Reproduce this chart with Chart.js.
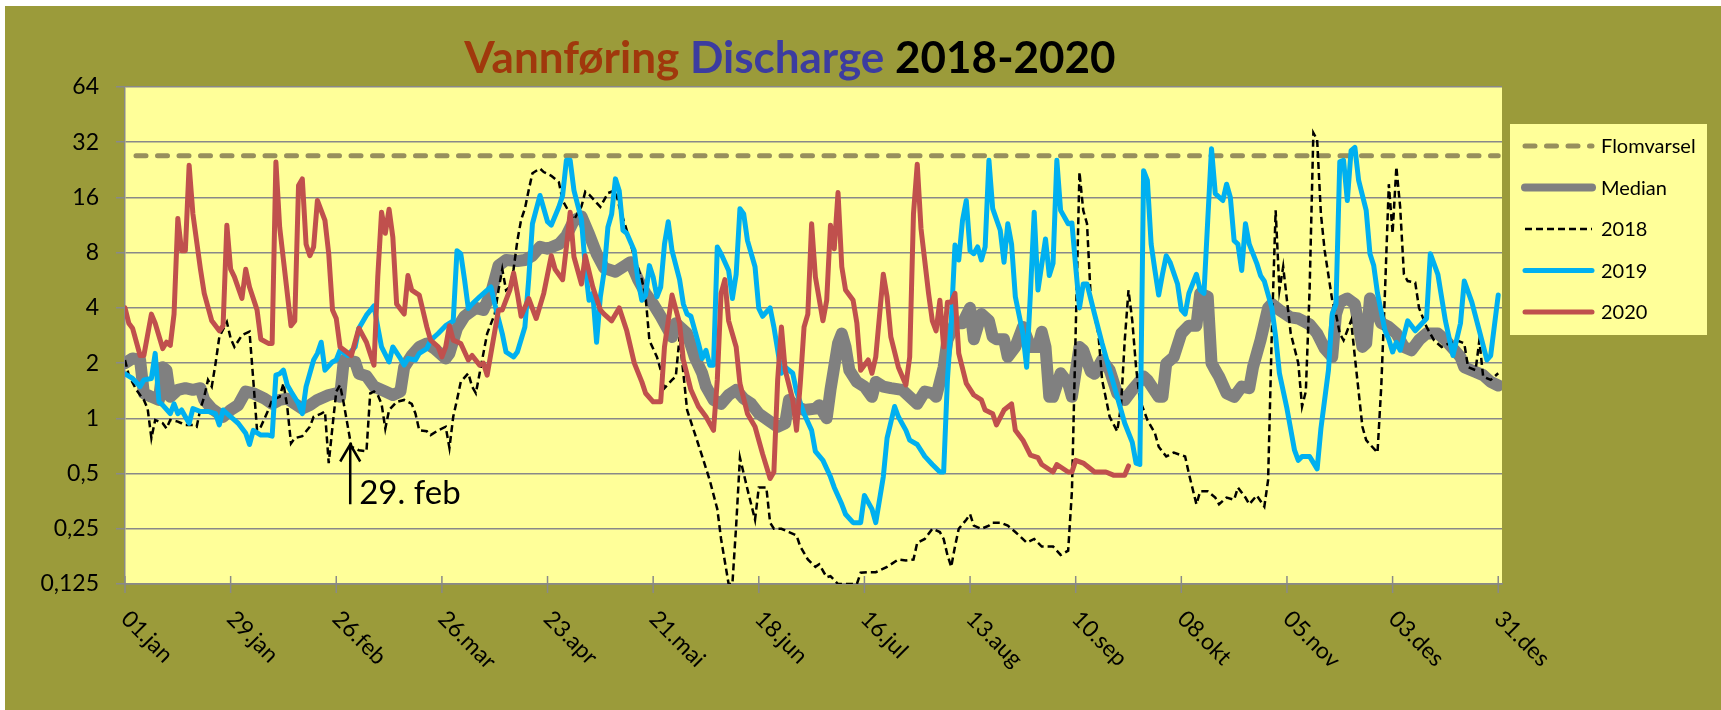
<!DOCTYPE html>
<html>
<head>
<meta charset="utf-8">
<title>Vannføring Discharge 2018-2020</title>
<script src="https://cdn.jsdelivr.net/npm/chart.js@4.4.1/dist/chart.umd.min.js"></script>
<style>
  html, body { margin: 0; padding: 0; background: #fff; }
  #wrap { position: relative; width: 1721px; height: 710px; }
</style>
</head>
<body>
<div id="wrap"><canvas id="flow-chart" width="1721" height="710"></canvas></div>
<script>
// x axis: day of year (0 = 1 Jan), ticks every 4 weeks
var tickDays = [0, 28, 56, 84, 112, 140, 168, 196, 224, 252, 280, 308, 336, 364];
var tickLabels = ['01.jan', '29.jan', '26.feb', '26.mar', '23.apr', '21.mai', '18.jun',
                  '16.jul', '13.aug', '10.sep', '08.okt', '05.nov', '03.des', '31.des'];

// y axis: log2 scale, m3/s
var yTicks = [0.125, 0.25, 0.5, 1, 2, 4, 8, 16, 32, 64];
var yTickLabels = ['0,125', '0,25', '0,5', '1', '2', '4', '8', '16', '32', '64'];

var floodLevel = 27; // Flomvarsel

// [day, discharge]
var median = [[0,2.0],[2,2.12],[4,2.08],[5,1.37],[7,1.31],[9,1.26],[10,1.9],[11,1.83],[12,1.31],[14,1.43],
  [16,1.46],[18,1.43],[20,1.46],[21,1.26],[23,1.13],[26,1.02],[28,1.11],[30,1.18],[32,1.4],[34,1.37],
  [37,1.28],[39,1.2],[41,1.26],[43,1.28],[45,1.2],[47,1.13],[49,1.18],[51,1.26],[54,1.34],[56,1.37],
  [57,1.31],[58,2.08],[61,2.03],[62,1.75],[64,1.7],[66,1.49],[69,1.4],[71,1.34],[73,1.4],[74,1.9],
  [76,2.2],[78,2.45],[80,2.56],[82,2.4],[85,2.12],[86,2.26],[88,3.1],[90,3.6],[93,4.0],[95,3.9],
  [97,4.8],[99,6.8],[101,7.3],[104,7.2],[106,7.3],[108,7.7],[110,8.6],[112,8.4],[115,8.9],[117,9.9],
  [119,12],[121,12.6],[123,10.1],[125,7.9],[127,6.6],[130,6.3],[133,6.9],[134,7.1],[136,5.7],[138,4.8],
  [140,4.2],[142,3.6],[145,2.78],[146,3.3],[149,2.9],[151,2.16],[153,1.76],[154,1.49],[156,1.26],[158,1.2],
  [160,1.34],[162,1.43],[164,1.28],[166,1.2],[168,1.06],[171,0.96],[173,0.9],[175,0.94],[176,1.26],[178,1.16],
  [180,1.11],[183,1.13],[184,1.18],[186,1.0],[187,1.43],[189,2.56],[190,2.9],[191,2.45],[192,1.83],[194,1.58],
  [196,1.49],[198,1.31],[199,1.58],[201,1.49],[203,1.46],[206,1.43],[208,1.31],[210,1.2],[212,1.4],[214,1.37],
  [215,1.31],[217,1.9],[218,2.67],[220,3.3],[222,3.3],[224,4.0],[225,2.7],[227,3.7],[229,3.4],[230,2.78],
  [231,2.7],[233,2.7],[234,2.16],[236,2.45],[238,3.15],[240,2.45],[242,2.45],[243,2.96],[244,2.45],[245,1.31],
  [246,1.31],[248,1.76],[250,1.55],[251,1.31],[253,2.45],[254,2.35],[256,1.8],[257,1.75],[259,2.08],[261,1.83],
  [263,1.37],[265,1.26],[267,1.43],[270,1.69],[271,1.62],[274,1.31],[275,1.31],[276,1.99],[278,2.16],[280,2.9],
  [282,3.2],[284,3.2],[285,4.8],[287,4.6],[288,2.0],[289,1.83],[290,1.69],[292,1.37],[294,1.31],[296,1.49],
  [298,1.46],[299,1.9],[301,2.67],[303,4.0],[304,4.2],[306,3.9],[309,3.55],[311,3.5],[314,3.25],[316,2.9],
  [318,2.4],[320,2.16],[321,3.7],[322,4.3],[324,4.5],[326,4.2],[328,2.45],[329,2.56],[330,4.5],[332,3.7],
  [333,3.3],[335,3.15],[337,2.9],[339,2.45],[341,2.35],[343,2.67],[345,2.9],[348,2.9],[350,2.67],[352,2.4],
  [354,2.16],[355,1.9],[358,1.79],[360,1.72],[362,1.58],[364,1.51]];

var q2018 = [[0,2.08],[1,1.72],[3,1.43],[4,1.34],[5,1.26],[6,1.13],[7,0.78],[8,0.98],[10,0.94],[11,0.88],
  [12,0.98],[14,0.96],[15,0.94],[16,0.92],[18,0.92],[19,0.9],[20,1.13],[21,1.31],[22,1.62],[23,1.49],
  [24,1.99],[25,2.78],[27,3.35],[28,2.73],[29,2.45],[31,2.84],[33,2.97],[34,1.62],[35,0.86],[36,0.9],
  [38,1.11],[39,1.26],[41,1.31],[42,1.55],[43,1.16],[44,0.73],[45,0.78],[47,0.8],[49,0.9],[50,1.02],
  [52,1.06],[53,1.09],[54,0.57],[55,0.9],[56,1.4],[57,1.52],[58,1.2],[60,0.7],[62,0.67],[64,0.66],
  [65,1.37],[66,1.4],[67,1.34],[68,1.2],[69,0.88],[70,1.11],[72,1.23],[74,1.26],[76,1.2],[77,1.06],
  [78,0.86],[80,0.85],[81,0.81],[83,0.86],[85,0.9],[86,0.69],[87,1.02],[88,1.26],[89,1.58],[91,1.76],
  [92,1.49],[93,1.37],[94,1.76],[95,2.26],[96,2.9],[98,3.7],[99,5.0],[100,6.5],[101,5.0],[102,5.2],
  [103,6.5],[104,9.3],[105,12.1],[106,13.9],[107,17.5],[108,21.7],[110,23],[111,22],[113,21],[115,19.4],
  [116,15.4],[118,13],[119,12.1],[121,14.3],[122,17.2],[123,16.6],[126,14.2],[128,16.9],[130,17.5],[131,14.3],
  [133,10.6],[135,7.6],[137,5.7],[138,4.6],[139,2.66],[141,2.16],[142,1.83],[143,1.46],[145,1.62],[146,1.69],
  [147,2.78],[148,1.76],[149,1.11],[151,0.83],[153,0.62],[155,0.46],[157,0.32],[158,0.22],[160,0.125],[161,0.125],
  [162,0.26],[163,0.61],[165,0.41],[167,0.28],[168,0.42],[170,0.42],[171,0.27],[172,0.25],[174,0.25],[176,0.24],
  [178,0.23],[179,0.2],[181,0.17],[183,0.155],[184,0.16],[186,0.136],[187,0.138],[189,0.125],[194,0.125],[195,0.144],
  [197,0.145],[199,0.145],[202,0.155],[205,0.17],[207,0.168],[209,0.17],[210,0.21],[212,0.22],[214,0.25],[216,0.24],
  [217,0.22],[218,0.18],[219,0.155],[220,0.2],[221,0.25],[223,0.28],[224,0.3],[225,0.26],[227,0.25],[229,0.26],
  [230,0.27],[232,0.27],[234,0.26],[236,0.24],[237,0.23],[239,0.21],[241,0.22],[243,0.2],[244,0.2],[246,0.2],
  [248,0.18],[250,0.19],[251,0.4],[252,3.0],[253,22],[254,13.6],[255,11.5],[256,4.5],[258,2.9],[259,1.62],
  [261,1.02],[263,0.85],[264,1.16],[265,2.66],[266,5.0],[267,3.4],[268,1.9],[269,1.26],[271,0.98],[273,0.83],
  [274,0.7],[276,0.62],[278,0.65],[281,0.62],[282,0.5],[284,0.34],[285,0.4],[287,0.4],[289,0.37],[290,0.34],
  [292,0.37],[294,0.36],[295,0.42],[297,0.37],[298,0.34],[300,0.38],[302,0.33],[303,0.46],[304,3.0],[305,13.6],
  [306,5.0],[307,6.7],[308,4.4],[309,2.9],[311,2.0],[312,1.16],[313,1.4],[314,5.0],[315,36],[316,33],
  [317,13],[318,8.2],[320,4.4],[321,3.7],[322,2.9],[323,2.66],[325,3.4],[326,2.16],[328,0.9],[329,0.76],
  [332,0.65],[333,1.5],[334,5.0],[335,18.9],[336,10.2],[337,23.5],[338,14.2],[339,6.1],[340,5.6],[342,5.5],
  [343,4.0],[345,3.15],[347,2.66],[349,2.45],[351,2.56],[353,2.66],[355,2.56],[356,1.9],[358,1.83],[359,2.66],
  [360,1.69],[362,1.62],[364,1.76]];

var q2019 = [[0,1.75],[2,1.65],[4,1.49],[5,1.62],[7,1.65],[8,2.26],[9,1.23],[10,1.18],[12,1.06],[13,1.2],
  [14,1.06],[15,1.11],[16,1.02],[17,0.94],[18,1.13],[20,1.09],[22,1.09],[24,1.06],[25,0.92],[26,1.11],
  [28,1.02],[30,0.94],[32,0.83],[33,0.72],[34,0.86],[36,0.81],[38,0.81],[39,0.8],[40,1.72],[41,1.75],
  [42,1.83],[43,1.52],[44,1.4],[46,1.2],[47,1.06],[48,1.49],[50,2.08],[51,2.26],[52,2.6],[53,1.83],
  [55,2.03],[56,2.08],[57,2.35],[59,2.2],[61,2.45],[62,3.1],[64,3.65],[66,4.1],[67,3.15],[68,2.45],
  [70,2.03],[71,2.45],[73,2.12],[74,1.95],[75,2.12],[77,2.08],[78,2.26],[80,2.4],[81,2.66],[83,2.9],
  [85,3.2],[87,3.4],[88,8.2],[89,7.9],[90,5.7],[91,3.97],[92,4.2],[94,4.6],[96,5.0],[97,5.2],
  [98,4.2],[100,2.9],[101,2.3],[103,2.16],[104,2.3],[106,3.15],[107,5.7],[108,11.5],[110,16.4],[112,11.8],
  [113,11.3],[115,14.2],[116,16.4],[117,25.5],[118,25.5],[119,17.5],[121,12.1],[122,6.7],[123,4.4],[124,4.8],
  [125,2.6],[126,4.6],[127,6.3],[128,11],[129,13],[130,20.2],[131,17.4],[132,10.6],[133,10.2],[135,8.2],
  [136,5.6],[137,4.4],[138,4.7],[139,6.8],[140,5.9],[141,4.6],[142,5.2],[143,8.9],[144,11.8],[145,8.2],
  [147,5.7],[148,4.2],[149,3.7],[150,3.6],[152,2.56],[153,2.12],[154,2.35],[155,1.95],[156,1.95],[157,8.6],
  [158,7.9],[160,6.4],[161,4.5],[162,6.1],[163,13.9],[164,13],[165,9.3],[167,6.7],[168,3.97],[169,3.6],
  [171,4.0],[172,3.15],[174,1.76],[175,1.9],[177,1.76],[178,1.4],[180,1.06],[182,0.86],[183,0.66],[185,0.59],
  [187,0.48],[188,0.42],[190,0.34],[191,0.3],[193,0.27],[195,0.27],[196,0.38],[198,0.32],[199,0.27],[201,0.48],
  [202,0.78],[204,1.16],[205,1.02],[207,0.86],[208,0.76],[210,0.72],[212,0.62],[214,0.56],[216,0.51],[217,0.51],
  [218,1.62],[219,3.3],[220,8.8],[221,7.3],[222,12],[223,15.4],[224,8.2],[225,7.9],[226,8.6],[227,7.3],
  [228,8.6],[229,25.5],[230,13.9],[232,10.6],[233,7.1],[234,11.5],[235,8.9],[236,4.6],[238,2.9],[239,1.9],
  [240,4.8],[241,13.3],[242,5.0],[244,9.5],[245,6.0],[246,7.0],[247,25.5],[248,13.6],[250,11.5],[251,11.6],
  [252,6.7],[253,4.0],[254,5.4],[255,5.4],[257,3.7],[259,2.56],[262,1.55],[265,0.94],[267,0.74],[268,0.57],
  [269,0.56],[270,22.4],[271,19.8],[272,8.9],[273,6.4],[274,4.7],[275,6.1],[276,7.7],[277,7.1],[279,5.4],
  [280,3.9],[281,3.7],[282,4.8],[284,6.1],[285,5.0],[286,4.8],[287,12],[288,29.5],[289,16.8],[291,15.4],
  [292,18.9],[293,16],[294,9.3],[295,8.9],[296,6.4],[297,11.5],[298,8.9],[300,7.0],[301,6.0],[302,5.6],
  [304,4.0],[305,2.78],[306,1.76],[308,1.13],[310,0.67],[311,0.59],[312,0.62],[314,0.62],[316,0.53],[317,0.88],
  [319,1.83],[320,3.7],[321,4.2],[322,25],[323,25.5],[324,15.4],[325,28.8],[326,30],[327,19.8],[329,13.6],
  [330,7.9],[331,6.8],[332,4.8],[334,3.0],[335,2.7],[336,2.3],[337,2.6],[338,2.35],[340,3.4],[342,3.0],
  [345,3.5],[346,7.9],[348,6.1],[350,3.4],[352,2.2],[354,3.3],[355,5.6],[357,4.3],[359,3.0],[361,2.08],
  [362,2.2],[364,4.7]];

var q2020 = [[0,4.0],[1,3.3],[2,3.1],[4,2.2],[5,2.2],[7,3.7],[8,3.3],[10,2.4],[11,2.6],[12,2.5],
  [13,3.7],[14,12.3],[15,8.2],[16,8.2],[17,24],[18,13],[20,6.5],[21,4.8],[23,3.4],[25,3.0],
  [26,3.2],[27,11.3],[28,6.5],[29,5.9],[31,4.5],[32,6.5],[33,5.2],[35,3.9],[36,2.7],[38,2.56],
  [39,2.56],[40,25],[41,11],[42,7.3],[44,3.2],[45,3.4],[46,18.6],[47,20.2],[48,8.9],[49,7.7],
  [50,8.6],[51,15.4],[53,12],[54,7.9],[55,3.9],[56,3.5],[57,2.45],[60,2.2],[62,3.1],[64,2.6],
  [66,1.95],[67,5.9],[68,13.3],[69,10.2],[70,13.8],[71,9.7],[72,4.2],[74,3.7],[75,6.0],[76,5.0],
  [78,4.7],[80,3.15],[81,2.67],[83,2.45],[84,2.16],[85,2.45],[86,3.2],[87,2.67],[89,2.56],[91,2.08],
  [92,2.2],[94,1.95],[95,2.0],[96,1.72],[99,3.9],[100,3.9],[102,5.0],[103,6.2],[104,4.8],[105,3.6],
  [107,4.5],[109,3.5],[111,4.8],[113,7.7],[114,6.5],[116,5.7],[117,8.6],[118,13.3],[119,7.6],[121,5.4],
  [122,7.7],[124,5.2],[126,3.9],[127,3.7],[129,3.4],[131,4.0],[133,3.0],[135,2.0],[137,1.58],[138,1.37],
  [140,1.23],[142,1.23],[143,2.45],[145,4.7],[147,3.3],[148,2.08],[150,1.43],[152,1.16],[154,1.02],[156,0.86],
  [157,1.62],[158,4.8],[159,5.7],[160,3.4],[162,2.45],[163,1.55],[165,1.06],[167,0.9],[169,0.64],[171,0.47],
  [172,0.51],[173,1.62],[174,3.15],[175,1.83],[177,1.26],[178,0.86],[179,1.55],[180,3.15],[181,3.7],[182,11.5],
  [183,5.9],[185,3.4],[186,4.4],[187,11.3],[188,8.4],[189,17],[190,6.7],[191,5.0],[193,4.4],[194,3.3],
  [195,1.83],[197,2.08],[198,1.76],[199,2.16],[201,6.1],[202,4.6],[203,2.78],[205,1.9],[207,1.52],[208,2.16],
  [209,13],[210,24.3],[211,10.8],[213,4.8],[214,3.4],[215,3.0],[216,4.4],[217,2.45],[218,4.3],[219,4.3],
  [220,4.8],[221,2.26],[223,1.55],[225,1.34],[227,1.26],[228,1.11],[230,1.06],[231,0.92],[233,1.11],[235,1.2],
  [236,0.86],[238,0.76],[240,0.63],[242,0.61],[243,0.56],[246,0.51],[247,0.56],[250,0.51],[251,0.51],[252,0.59],
  [254,0.57],[255,0.55],[257,0.51],[260,0.51],[262,0.49],[265,0.49],[266,0.55]];

var leapDay = 59.7; // 29. feb 2020 marker

var OLIVE = '#9b9b3a';
var PLOT_BG = '#ffff99';
var GRID = '#898989';

function toPoints(pairs) {
  return pairs.map(function (p) { return { x: p[0], y: p[1] }; });
}

// background, white page margin and the yellow plot area
var backdrop = {
  id: 'backdrop',
  beforeDraw: function (chart) {
    var ctx = chart.ctx, a = chart.chartArea;
    ctx.save();
    ctx.fillStyle = '#fff';
    ctx.fillRect(0, 0, chart.width, chart.height);
    ctx.fillStyle = OLIVE;
    ctx.fillRect(5, 6, chart.width - 5, chart.height - 6);
    ctx.fillStyle = PLOT_BG;
    ctx.fillRect(a.left, a.top, a.right - a.left, a.bottom - a.top);
    ctx.restore();
  }
};

// title, rotated date labels, 29. feb arrow and legend
var decor = {
  id: 'decor',
  afterDraw: function (chart) {
    var ctx = chart.ctx, a = chart.chartArea;
    var xs = chart.scales.x, ys = chart.scales.y;
    ctx.save();

    // title in three colours
    var parts = [['Vannføring ', '#a0380c'], ['Discharge ', '#3c3ca0'], ['2018-2020', '#000']];
    ctx.font = 'bold 44px Lato';
    ctx.textBaseline = 'alphabetic';
    ctx.textAlign = 'left';
    var total = 0;
    parts.forEach(function (p) { total += ctx.measureText(p[0]).width; });
    var tx = 790 - total / 2;
    parts.forEach(function (p) {
      ctx.fillStyle = p[1];
      ctx.fillText(p[0], tx, 73);
      tx += ctx.measureText(p[0]).width;
    });

    // x tick marks crossing the axis + labels at 45 degrees
    ctx.strokeStyle = GRID;
    ctx.lineWidth = 1.5;
    ctx.fillStyle = '#000';
    ctx.font = '23px Lato';
    ctx.textBaseline = 'middle';
    tickDays.forEach(function (d, i) {
      var x = xs.getPixelForValue(d);
      ctx.beginPath();
      ctx.moveTo(x, a.bottom - 8);
      ctx.lineTo(x, a.bottom + 9);
      ctx.stroke();
      ctx.save();
      ctx.translate(x, a.bottom + 31);
      ctx.rotate(Math.PI / 4);
      ctx.fillText(tickLabels[i], 0, 0);
      ctx.restore();
    });

    // 29. feb arrow
    var ax = xs.getPixelForValue(leapDay);
    var tipY = ys.getPixelForValue(0.72);
    var baseY = ys.getPixelForValue(0.34);
    ctx.strokeStyle = '#000';
    ctx.lineWidth = 2.5;
    ctx.beginPath();
    ctx.moveTo(ax, baseY);
    ctx.lineTo(ax, tipY);
    ctx.moveTo(ax - 10, tipY + 17);
    ctx.lineTo(ax, tipY);
    ctx.lineTo(ax + 10, tipY + 17);
    ctx.stroke();
    ctx.font = '33px Lato';
    ctx.textBaseline = 'alphabetic';
    ctx.fillText('29. feb', ax + 9, baseY);

    // legend
    ctx.fillStyle = PLOT_BG;
    ctx.fillRect(1510, 124, 197, 211);
    ctx.font = '20px Lato';
    ctx.textBaseline = 'middle';
    chart.data.datasets.forEach(function (ds, i) {
      var y = 146 + i * 41.5;
      ctx.save();
      ctx.strokeStyle = ds.borderColor;
      ctx.lineWidth = Math.min(ds.borderWidth, 8);
      ctx.lineCap = ds.borderCapStyle || 'butt';
      ctx.setLineDash(ds.borderDash || []);
      ctx.beginPath();
      ctx.moveTo(1525, y);
      ctx.lineTo(1592, y);
      ctx.stroke();
      ctx.restore();
      ctx.fillStyle = '#000';
      ctx.fillText(ds.label, 1601, y + 1);
    });

    ctx.restore();
  }
};

var ctx = document.getElementById('flow-chart').getContext('2d');
var chart = new Chart(ctx, {
  type: 'line',
  data: {
    datasets: [{
      label: 'Flomvarsel',
      data: [{ x: 0, y: floodLevel }, { x: 364, y: floodLevel }],
      borderColor: '#978f5c',
      borderWidth: 5,
      borderDash: [10, 11.5],
      borderDashOffset: 10.5,
      borderCapStyle: 'round',
      order: 5
    }, {
      label: 'Median',
      data: toPoints(median),
      borderColor: '#808080',
      borderWidth: 12,
      borderCapStyle: 'round',
      borderJoinStyle: 'round',
      order: 4
    }, {
      label: '2018',
      data: toPoints(q2018),
      borderColor: '#000000',
      borderWidth: 2.5,
      borderDash: [7, 4],
      order: 3
    }, {
      label: '2019',
      data: toPoints(q2019),
      borderColor: '#00b0f0',
      borderWidth: 5,
      borderCapStyle: 'round',
      borderJoinStyle: 'round',
      order: 2
    }, {
      label: '2020',
      data: toPoints(q2020),
      borderColor: '#c0504d',
      borderWidth: 5,
      borderCapStyle: 'round',
      borderJoinStyle: 'round',
      order: 1
    }]
  },
  options: {
    responsive: false,
    animation: false,
    devicePixelRatio: 1,
    layout: { padding: { left: 0, top: 87, right: 219, bottom: 0 } },
    elements: { point: { radius: 0 }, line: { tension: 0, fill: false } },
    plugins: { legend: { display: false }, title: { display: false }, tooltip: { enabled: false } },
    scales: {
      x: {
        type: 'linear',
        min: 0,
        max: 365,
        afterBuildTicks: function (scale) {
          scale.ticks = tickDays.map(function (d) { return { value: d }; });
        },
        afterFit: function (scale) { scale.height = 126; },
        ticks: { display: false },
        grid: { display: false },
        border: { display: true, color: GRID, width: 1.5 }
      },
      y: {
        type: 'logarithmic',
        min: 0.125,
        max: 64,
        afterBuildTicks: function (scale) {
          scale.ticks = yTicks.map(function (v) { return { value: v }; });
        },
        afterFit: function (scale) { scale.width = 125; },
        ticks: {
          color: '#000',
          font: { family: 'Lato', size: 23 },
          padding: 17,
          autoSkip: false,
          callback: function (v) {
            var i = yTicks.indexOf(v);
            return i >= 0 ? yTickLabels[i] : '';
          }
        },
        grid: { color: GRID, lineWidth: 1.5, tickLength: 9, drawTicks: true },
        border: { display: true, color: GRID, width: 1.5 }
      }
    }
  },
  plugins: [backdrop, decor]
});
</script>
</body>
</html>
